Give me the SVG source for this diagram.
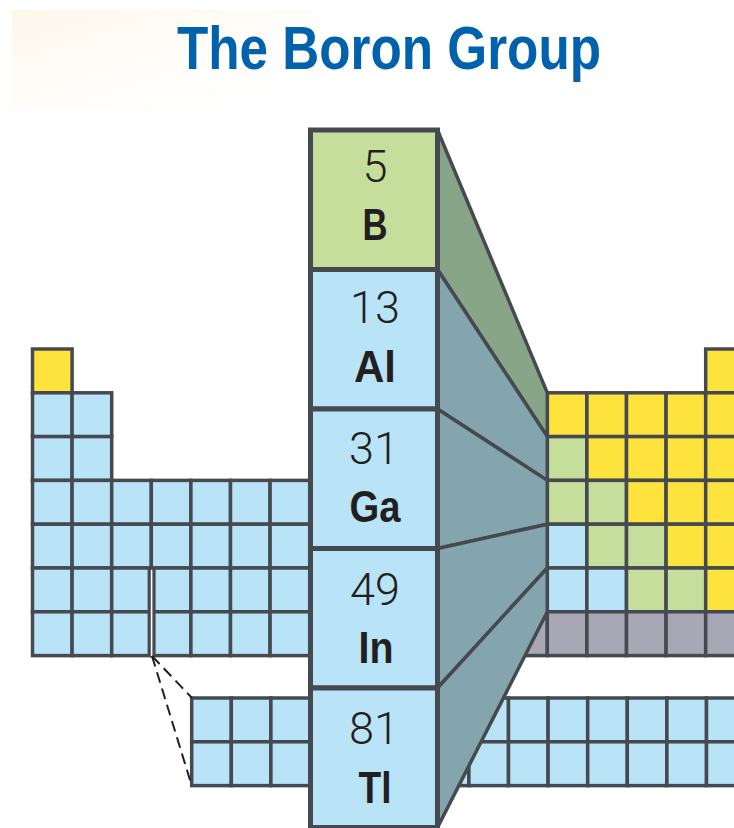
<svg xmlns="http://www.w3.org/2000/svg" xmlns:xlink="http://www.w3.org/1999/xlink" width="734" height="828" viewBox="0 0 734 828">
<style>
.b{fill:#b9e4f8}.y{fill:#fee33d}.g{fill:#c6de9c}.s{fill:#a8a7b6}
.cell{stroke:#454950;stroke-width:3.5}
.trap{stroke:#454950;stroke-width:3.5;stroke-linejoin:round}
.tg{fill:#89a588}.tb{fill:#84a4ae}
.col{stroke:#454950;stroke-width:5}
.num{font-family:Roboto,"Liberation Sans",Arial,sans-serif;font-weight:300;font-size:45px;fill:#231f20;text-anchor:middle}
.sym{font-family:"Liberation Sans",Arial,sans-serif;font-size:45px;font-weight:bold;fill:#231f20;text-anchor:middle}
.dash{stroke:#231f20;stroke-width:2;stroke-dasharray:11 6;fill:none}
</style>
<defs>
<rect id="c" class="cell" width="39.6" height="43.8"/>
<linearGradient id="glow" x1="0" y1="0" x2="1" y2="1">
<stop offset="0" stop-color="#fdf7ea"/>
<stop offset="0.5" stop-color="#fffcf6" stop-opacity="0.7"/>
<stop offset="1" stop-color="#ffffff" stop-opacity="0"/>
</linearGradient>
</defs>
<rect width="734" height="828" fill="#ffffff"/>
<rect x="12" y="10" width="300" height="100" fill="url(#glow)"/>
<g id="title">
<text x="389" y="69" font-family="'Liberation Sans',Arial,sans-serif" font-size="61" font-weight="bold" fill="#0061ad" text-anchor="middle" textLength="424" lengthAdjust="spacingAndGlyphs">The Boron Group</text>
</g>
<g id="table-left">
<use href="#c" class="y" x="32.5" y="349"/>
<use href="#c" class="b" x="32.5" y="392.8"/><use href="#c" class="b" x="72.1" y="392.8"/>
<use href="#c" class="b" x="32.5" y="436.6"/><use href="#c" class="b" x="72.1" y="436.6"/>
<use href="#c" class="b" x="32.5" y="480.4"/><use href="#c" class="b" x="72.1" y="480.4"/><use href="#c" class="b" x="111.7" y="480.4"/><use href="#c" class="b" x="151.3" y="480.4"/><use href="#c" class="b" x="190.9" y="480.4"/><use href="#c" class="b" x="230.5" y="480.4"/><use href="#c" class="b" x="270.1" y="480.4"/>
<use href="#c" class="b" x="32.5" y="524.2"/><use href="#c" class="b" x="72.1" y="524.2"/><use href="#c" class="b" x="111.7" y="524.2"/><use href="#c" class="b" x="151.3" y="524.2"/><use href="#c" class="b" x="190.9" y="524.2"/><use href="#c" class="b" x="230.5" y="524.2"/><use href="#c" class="b" x="270.1" y="524.2"/>
<use href="#c" class="b" x="32.5" y="568"/><use href="#c" class="b" x="72.1" y="568"/><use href="#c" class="b" x="111.7" y="568"/><use href="#c" class="b" x="151.3" y="568"/><use href="#c" class="b" x="190.9" y="568"/><use href="#c" class="b" x="230.5" y="568"/><use href="#c" class="b" x="270.1" y="568"/>
<use href="#c" class="b" x="32.5" y="611.8"/><use href="#c" class="b" x="72.1" y="611.8"/><use href="#c" class="b" x="111.7" y="611.8"/><use href="#c" class="b" x="151.3" y="611.8"/><use href="#c" class="b" x="190.9" y="611.8"/><use href="#c" class="b" x="230.5" y="611.8"/><use href="#c" class="b" x="270.1" y="611.8"/>
<line x1="151.6" y1="568" x2="151.6" y2="655.6" stroke="#454950" stroke-width="8"/>
<line x1="151.6" y1="569.8" x2="151.6" y2="656" stroke="#ffffff" stroke-width="1.6"/>
</g>
<g id="table-right">
<use href="#c" class="y" x="705.7" y="349"/>
<use href="#c" class="y" x="547.3" y="392.8"/><use href="#c" class="y" x="586.9" y="392.8"/><use href="#c" class="y" x="626.5" y="392.8"/><use href="#c" class="y" x="666.1" y="392.8"/><use href="#c" class="y" x="705.7" y="392.8"/>
<use href="#c" class="g" x="547.3" y="436.6"/><use href="#c" class="y" x="586.9" y="436.6"/><use href="#c" class="y" x="626.5" y="436.6"/><use href="#c" class="y" x="666.1" y="436.6"/><use href="#c" class="y" x="705.7" y="436.6"/>
<use href="#c" class="g" x="547.3" y="480.4"/><use href="#c" class="g" x="586.9" y="480.4"/><use href="#c" class="y" x="626.5" y="480.4"/><use href="#c" class="y" x="666.1" y="480.4"/><use href="#c" class="y" x="705.7" y="480.4"/>
<use href="#c" class="b" x="547.3" y="524.2"/><use href="#c" class="g" x="586.9" y="524.2"/><use href="#c" class="g" x="626.5" y="524.2"/><use href="#c" class="y" x="666.1" y="524.2"/><use href="#c" class="y" x="705.7" y="524.2"/>
<use href="#c" class="b" x="547.3" y="568"/><use href="#c" class="b" x="586.9" y="568"/><use href="#c" class="g" x="626.5" y="568"/><use href="#c" class="g" x="666.1" y="568"/><use href="#c" class="y" x="705.7" y="568"/>
<use href="#c" class="s" x="507.7" y="611.8"/><use href="#c" class="s" x="547.3" y="611.8"/><use href="#c" class="s" x="586.9" y="611.8"/><use href="#c" class="s" x="626.5" y="611.8"/><use href="#c" class="s" x="666.1" y="611.8"/><use href="#c" class="s" x="705.7" y="611.8"/>
</g>
<g id="f-block">
<use href="#c" class="b" x="191.7" y="698"/><use href="#c" class="b" x="231.3" y="698"/><use href="#c" class="b" x="270.9" y="698"/><use href="#c" class="b" x="310.5" y="698"/><use href="#c" class="b" x="350.1" y="698"/><use href="#c" class="b" x="389.7" y="698"/><use href="#c" class="b" x="429.3" y="698"/><use href="#c" class="b" x="468.9" y="698"/><use href="#c" class="b" x="508.5" y="698"/><use href="#c" class="b" x="548.1" y="698"/><use href="#c" class="b" x="587.7" y="698"/><use href="#c" class="b" x="627.3" y="698"/><use href="#c" class="b" x="666.9" y="698"/><use href="#c" class="b" x="706.5" y="698"/>
<use href="#c" class="b" x="191.7" y="741.8"/><use href="#c" class="b" x="231.3" y="741.8"/><use href="#c" class="b" x="270.9" y="741.8"/><use href="#c" class="b" x="310.5" y="741.8"/><use href="#c" class="b" x="350.1" y="741.8"/><use href="#c" class="b" x="389.7" y="741.8"/><use href="#c" class="b" x="429.3" y="741.8"/><use href="#c" class="b" x="468.9" y="741.8"/><use href="#c" class="b" x="508.5" y="741.8"/><use href="#c" class="b" x="548.1" y="741.8"/><use href="#c" class="b" x="587.7" y="741.8"/><use href="#c" class="b" x="627.3" y="741.8"/><use href="#c" class="b" x="666.9" y="741.8"/><use href="#c" class="b" x="706.5" y="741.8"/>
</g>
<g id="connectors">
<polygon class="trap tg" points="437.5,130 547.3,392.8 547.3,436.6 437.5,269.5"/>
<polygon class="trap tb" points="437.5,269.5 547.3,436.6 547.3,480.4 437.5,409"/>
<polygon class="trap tb" points="437.5,409 547.3,480.4 547.3,524.2 437.5,548.5"/>
<polygon class="trap tb" points="437.5,548.5 547.3,524.2 547.3,568 437.5,688"/>
<polygon class="trap tb" points="437.5,688 547.3,568 547.3,611.8 437.5,827.5"/>
<line class="dash" x1="152" y1="656" x2="192" y2="698"/>
<line class="dash" x1="152" y1="656" x2="191.7" y2="785.6"/>
</g>
<g id="node-B">
<rect class="col g" x="310.5" y="130" width="127" height="139.5"/>
<text class="num" x="375" y="182">5</text>
<text class="sym" x="375" y="240" textLength="25" lengthAdjust="spacingAndGlyphs">B</text>
</g>
<g id="node-Al">
<rect class="col b" x="310.5" y="269.5" width="127" height="139.5"/>
<text class="num" x="375" y="323">13</text>
<text class="sym" x="375" y="382" textLength="42" lengthAdjust="spacingAndGlyphs">Al</text>
</g>
<g id="node-Ga">
<rect class="col b" x="310.5" y="409" width="127" height="139.5"/>
<text class="num" x="374" y="464">31</text>
<text class="sym" x="375" y="522" textLength="51" lengthAdjust="spacingAndGlyphs">Ga</text>
</g>
<g id="node-In">
<rect class="col b" x="310.5" y="548.5" width="127" height="139.5"/>
<text class="num" x="375" y="605">49</text>
<text class="sym" x="376" y="663" textLength="35" lengthAdjust="spacingAndGlyphs">In</text>
</g>
<g id="node-Tl">
<rect class="col b" x="310.5" y="688" width="127" height="139.5"/>
<text class="num" x="374" y="744">81</text>
<text class="sym" x="375" y="803" textLength="33" lengthAdjust="spacingAndGlyphs">Tl</text>
</g>
</svg>
